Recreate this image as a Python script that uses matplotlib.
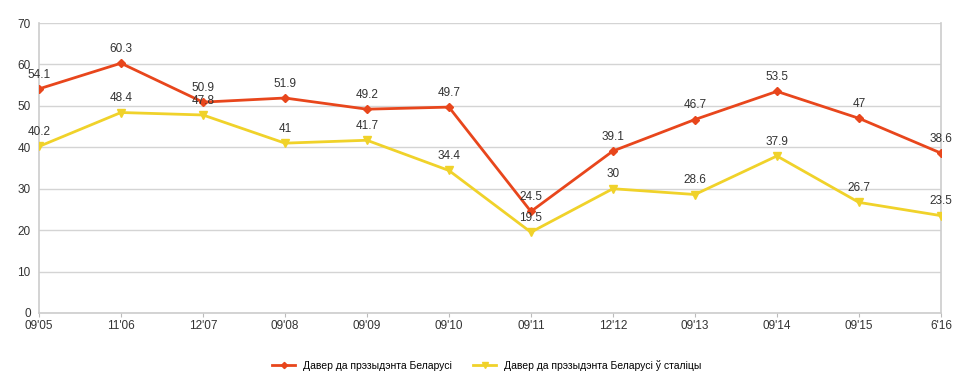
import numpy as np
import matplotlib.pyplot as plt

# Data
labels = ["09'05", "11'06", "12'07", "09'08", "09'09", "09'10",
          "09'11", "12'12", "09'13", "09'14", "09'15", "6'16"]
trust = [54.1, 60.3, 50.9, 51.9, 49.2, 49.7, 24.5, 39.1, 46.7, 53.5, 47, 38.6]
trust_capital = [40.2, 48.4, 47.8, 41, 41.7, 34.4, 19.5, 30, 28.6, 37.9, 26.7, 23.5]
series_names = ["Давер да прэзыдэнта Беларусі", "Давер да прэзыдэнта Беларусі ў сталіцы"]


def main():
    plt.rcParams["font.family"] = ["Liberation Sans", "DejaVu Sans"]
    fig = plt.figure(figsize=(9.74, 3.84), dpi=100)
    ax = fig.add_axes([0.040, 0.185, 0.926, 0.755])
    x = np.arange(len(labels))

    red = "#E8461C"
    yellow = "#F0D22A"
    ax.plot(x, trust, color=red, lw=2, marker="D", ms=4.5, label=series_names[0], zorder=3)
    ax.plot(x, trust_capital, color=yellow, lw=2, marker="v", ms=6, label=series_names[1], zorder=3)

    for xi, v in zip(x, trust):
        ax.annotate(f"{v:g}", (xi, v), xytext=(0, 6), textcoords="offset points",
                    ha="center", va="bottom", fontsize=8.5, color="#333333")
    for xi, v in zip(x, trust_capital):
        ax.annotate(f"{v:g}", (xi, v), xytext=(0, 6), textcoords="offset points",
                    ha="center", va="bottom", fontsize=8.5, color="#333333")

    ax.set_xlim(0, len(labels) - 1)
    ax.set_ylim(0, 70)
    ax.set_yticks(range(0, 71, 10))
    ax.set_xticks(x)
    ax.set_xticklabels(labels)
    ax.tick_params(axis="both", labelsize=8.5, colors="#333333", length=3)
    ax.tick_params(axis="y", length=0, pad=6)
    ax.tick_params(axis="x", color="#bbbbbb", pad=2)
    ax.grid(axis="y", color="#d4d4d4", lw=1)
    ax.set_axisbelow(True)
    for s in ["left", "bottom", "right"]:
        ax.spines[s].set_color("#cccccc")
        ax.spines[s].set_linewidth(1.2)
    ax.spines["top"].set_visible(False)

    fig.legend(loc="lower center", bbox_to_anchor=(0.5, 0.01), ncol=2, frameon=False,
               fontsize=7.5, handlelength=2.2, columnspacing=2, markerscale=0.7)

    fig.savefig("out.png", dpi=100)


if __name__ == "__main__":
    main()
